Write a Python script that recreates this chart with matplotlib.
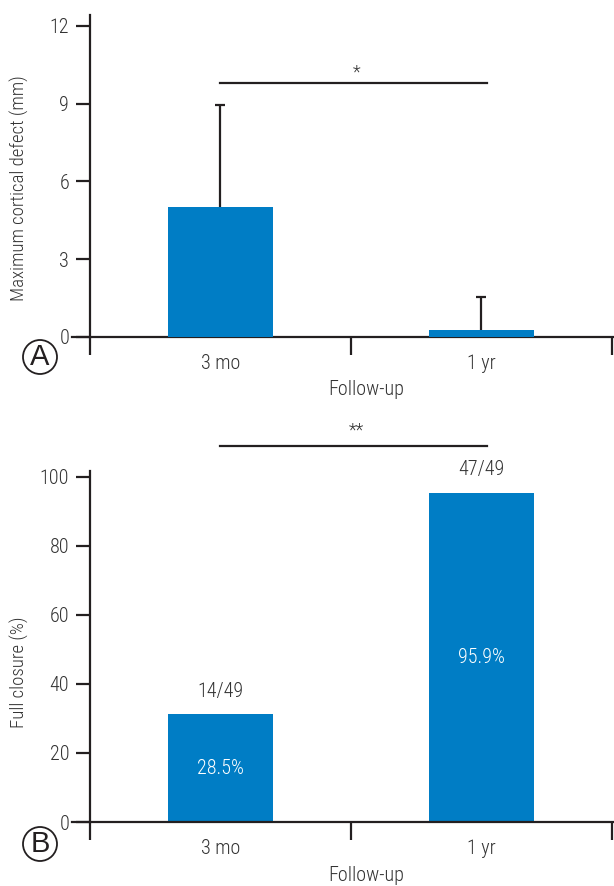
import matplotlib
matplotlib.use("Agg")
from matplotlib import pyplot as plt
from matplotlib import font_manager
from matplotlib.patches import Ellipse

# panel A: maximum cortical defect (mm)
groups = ["3 mo", "1 yr"]
defect_mean = [5.0, 0.28]
defect_sd = [3.93, 1.27]
defect_sig = "*"

# panel B: full closure (%)
closure_pct = [31.2, 95.4]
closure_counts = ["14/49", "47/49"]
closure_text = ["28.5%", "95.9%"]
closure_sig = "**"

installed = {f.name for f in font_manager.fontManager.ttflist}
wanted = ["Roboto Condensed", "Liberation Sans Narrow", "Open Sans Condensed", "Roboto"]
family = [f for f in wanted if f in installed] + ["DejaVu Sans"]
plt.rcParams["font.family"] = family
plt.rcParams["font.weight"] = "light"
plt.rcParams["axes.labelweight"] = "light"

blue = "#007dc5"
ink = "#231f20"
txt = "#333333"

W, H = 614, 886
fig = plt.figure(figsize=(W / 100, H / 100), dpi=100)


def px_box(x0, y_top, x1, y_bottom):
    return [x0 / W, 1 - y_bottom / H, (x1 - x0) / W, (y_bottom - y_top) / H]


def style_axes(ax, ymax, yticks, ylabel, ylab_y, xlab_y):
    x = range(len(groups))
    ax.set_xlim(-0.569, 1.508)
    ax.set_ylim(0, ymax)
    for s in ["top", "right"]:
        ax.spines[s].set_visible(False)
    ax.spines["left"].set_position(("data", -0.5))
    for s in ["left", "bottom"]:
        ax.spines[s].set_color(ink)
        ax.spines[s].set_linewidth(1.6)
    ax.set_xticks([-0.5, 0.5, 1.5])
    ax.set_xticklabels([])
    ax.set_xticks(list(x), minor=True)
    ax.set_xticklabels(groups, minor=True)
    ax.tick_params(axis="x", which="major", direction="out", length=13, width=1.6, color=ink)
    ax.tick_params(axis="x", which="minor", length=0, pad=12, labelsize=14.5, labelcolor=txt)
    ax.set_yticks(yticks)
    ax.tick_params(axis="y", direction="out", length=10, width=1.6, color=ink,
                   pad=5, labelsize=14.5, labelcolor=txt)
    ax.set_ylabel(ylabel, fontsize=13.5, color=txt)
    ax.yaxis.set_label_coords(-0.08, ylab_y)
    ax.set_xlabel("Follow-up", fontsize=14.5, color=txt)
    ax.xaxis.set_label_coords(0.542, xlab_y)


def panel_letter(letter, cx, cy):
    fig.patches.append(Ellipse((cx / W, 1 - cy / H), 34 / W, 34 / H,
                               transform=fig.transFigure, fc="white", ec=ink, lw=1.3))
    fig.text(cx / W, 1 - cy / H, letter, fontsize=21, family=["Liberation Sans", "DejaVu Sans"],
             weight="normal", ha="center", va="center", color=ink)


# ---- panel A
axA = fig.add_axes(px_box(72, 15, 614, 337))
axA.bar(range(len(groups)), defect_mean, width=0.4, color=blue, zorder=3)
eb = axA.errorbar(range(len(groups)), defect_mean, yerr=[[0, 0], defect_sd], fmt="none",
                  ecolor=ink, elinewidth=1.6, capsize=3.5, capthick=1.6, zorder=2)
eb[1][0].set_visible(False)  # no lower cap
style_axes(axA, 12.42, [0, 3, 6, 9, 12], "Maximum cortical defect (mm)", 0.463, -0.135)
axA.plot([0, 1.02], [9.81, 9.81], color=ink, lw=1.6, clip_on=False)
axA.text(0.52, 10.2, defect_sig, ha="center", va="center", fontsize=13, color=txt)
panel_letter("A", 40, 357)

# ---- panel B
axB = fig.add_axes(px_box(72, 471, 614, 822))
axB.bar(range(len(groups)), closure_pct, width=0.4, color=blue, zorder=2)
style_axes(axB, 101.7, [0, 20, 40, 60, 80, 100], "Full closure (%)", 0.427, -0.125)
for i, (h, c, t) in enumerate(zip(closure_pct, closure_counts, closure_text)):
    axB.text(i, h + 4, c, ha="center", va="bottom", fontsize=14.5, color=txt, clip_on=False)
    axB.text(i, h / 2, t, ha="center", va="center", fontsize=14.5, color="white")
axB.plot([0, 1.02], [109, 109], color=ink, lw=1.6, clip_on=False)
axB.text(0.52, 113.5, closure_sig, ha="center", va="center", fontsize=13, color=txt)
panel_letter("B", 40, 844)

fig.savefig("out.png", dpi=100)
